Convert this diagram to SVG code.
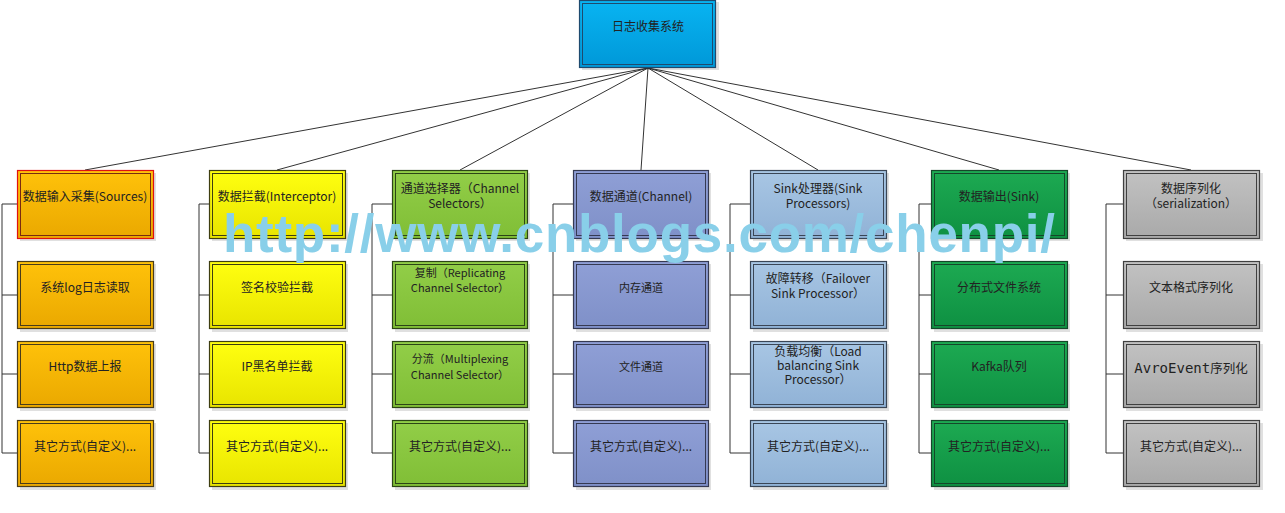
<svg xmlns="http://www.w3.org/2000/svg" width="1285" height="513" viewBox="0 0 1285 513">
<defs>
<linearGradient id="gTop" x1="0" y1="0" x2="0" y2="1"><stop offset="0" stop-color="#08B4F2"/><stop offset="1" stop-color="#0098D8"/></linearGradient>
<linearGradient id="gOr" x1="0" y1="0" x2="0" y2="1"><stop offset="0" stop-color="#FFC20A"/><stop offset="1" stop-color="#EAA800"/></linearGradient>
<linearGradient id="gYe" x1="0" y1="0" x2="0" y2="1"><stop offset="0" stop-color="#FFFF10"/><stop offset="1" stop-color="#E8E400"/></linearGradient>
<linearGradient id="gLi" x1="0" y1="0" x2="0" y2="1"><stop offset="0" stop-color="#92CE48"/><stop offset="1" stop-color="#80BE36"/></linearGradient>
<linearGradient id="gLa" x1="0" y1="0" x2="0" y2="1"><stop offset="0" stop-color="#8F9FD6"/><stop offset="1" stop-color="#7F90C8"/></linearGradient>
<linearGradient id="gLb" x1="0" y1="0" x2="0" y2="1"><stop offset="0" stop-color="#A8C6E4"/><stop offset="1" stop-color="#90B2D6"/></linearGradient>
<linearGradient id="gGr" x1="0" y1="0" x2="0" y2="1"><stop offset="0" stop-color="#1DAA52"/><stop offset="1" stop-color="#0E9042"/></linearGradient>
<linearGradient id="gGy" x1="0" y1="0" x2="0" y2="1"><stop offset="0" stop-color="#C2C2C2"/><stop offset="1" stop-color="#A9A9A9"/></linearGradient>
</defs>
<style>
.sh{fill:#000;opacity:0.12}
.o{stroke-width:1.2}
.i{fill:none;stroke-width:1}
.t{font-family:"Noto Sans CJK SC","Liberation Sans",sans-serif;font-size:12px;fill:#222;text-anchor:middle}
.s{font-size:11px}
.conn line,.conn polyline{stroke:#333;stroke-width:1;fill:none}
.wm{font-family:"Liberation Sans",Arial,sans-serif;font-weight:bold;font-size:53px;fill:#89CFE9}
</style>
<rect width="1285" height="513" fill="#fff"/>

<g id="connectors" class="conn">
<line x1="648" y1="68" x2="85" y2="170"/>
<line x1="648" y1="68" x2="277" y2="170"/>
<line x1="648" y1="68" x2="460" y2="170"/>
<line x1="648" y1="68" x2="641" y2="170"/>
<line x1="648" y1="68" x2="818" y2="170"/>
<line x1="648" y1="68" x2="999" y2="170"/>
<line x1="648" y1="68" x2="1191" y2="170"/>
<polyline points="17,204 2,204 2,453 17,453"/><line x1="2" y1="295" x2="17" y2="295"/><line x1="2" y1="374" x2="17" y2="374"/>
<polyline points="209,204 199,204 199,453 209,453"/><line x1="199" y1="295" x2="209" y2="295"/><line x1="199" y1="374" x2="209" y2="374"/>
<polyline points="392,204 372,204 372,453 392,453"/><line x1="372" y1="295" x2="392" y2="295"/><line x1="372" y1="374" x2="392" y2="374"/>
<polyline points="573,204 553,204 553,453 573,453"/><line x1="553" y1="295" x2="573" y2="295"/><line x1="553" y1="374" x2="573" y2="374"/>
<polyline points="750,204 730,204 730,453 750,453"/><line x1="730" y1="295" x2="750" y2="295"/><line x1="730" y1="374" x2="750" y2="374"/>
<polyline points="931,204 919,204 919,453 931,453"/><line x1="919" y1="295" x2="931" y2="295"/><line x1="919" y1="374" x2="931" y2="374"/>
<polyline points="1123,204 1106,204 1106,453 1123,453"/><line x1="1106" y1="295" x2="1123" y2="295"/><line x1="1106" y1="374" x2="1123" y2="374"/>
</g>

<g id="root">
<rect class="sh" x="582" y="2" width="137" height="68"/>
<rect class="o" x="579.5" y="0.5" width="136" height="67" fill="url(#gTop)" stroke="#1E4A6E"/>
<rect class="i" x="582.5" y="3.5" width="130" height="61" stroke="#1E4A6E"/>
<text class="t" x="648" y="31">日志收集系统</text>
</g>

<!-- Column 1 -->
<g id="c1h"><rect class="sh" x="20" y="173" width="136" height="68"/><rect class="o" x="17.5" y="170.5" width="136" height="68" fill="url(#gOr)" stroke="#E01010"/><rect class="i" x="20.5" y="173.5" width="130" height="62" stroke="#7A2A10"/><text class="t" x="85" y="201">数据输入采集(Sources)</text></g>
<g id="c1a"><rect class="sh" x="20" y="264" width="136" height="68"/><rect class="o" x="17.5" y="261.5" width="136" height="67" fill="url(#gOr)" stroke="#4A3C1A"/><rect class="i" x="20.5" y="264.5" width="130" height="61" stroke="#4A3C1A"/><text class="t" x="85" y="292">系统log日志读取</text></g>
<g id="c1b"><rect class="sh" x="20" y="344" width="136" height="67"/><rect class="o" x="17.5" y="341.5" width="136" height="66" fill="url(#gOr)" stroke="#4A3C1A"/><rect class="i" x="20.5" y="344.5" width="130" height="60" stroke="#4A3C1A"/><text class="t" x="85" y="371">Http数据上报</text></g>
<g id="c1c"><rect class="sh" x="20" y="423" width="136" height="67"/><rect class="o" x="17.5" y="420.5" width="136" height="66" fill="url(#gOr)" stroke="#4A3C1A"/><rect class="i" x="20.5" y="423.5" width="130" height="60" stroke="#4A3C1A"/><text class="t" x="85" y="451">其它方式(自定义)...</text></g>

<!-- Column 2 -->
<g id="c2h"><rect class="sh" x="212" y="173" width="136" height="68"/><rect class="o" x="209.5" y="170.5" width="136" height="68" fill="url(#gYe)" stroke="#3E3E10"/><rect class="i" x="212.5" y="173.5" width="130" height="62" stroke="#3E3E10"/><text class="t" x="277" y="201">数据拦截(Interceptor)</text></g>
<g id="c2a"><rect class="sh" x="212" y="264" width="136" height="68"/><rect class="o" x="209.5" y="261.5" width="136" height="67" fill="url(#gYe)" stroke="#3E3E10"/><rect class="i" x="212.5" y="264.5" width="130" height="61" stroke="#3E3E10"/><text class="t" x="277" y="292">签名校验拦截</text></g>
<g id="c2b"><rect class="sh" x="212" y="344" width="136" height="67"/><rect class="o" x="209.5" y="341.5" width="136" height="66" fill="url(#gYe)" stroke="#3E3E10"/><rect class="i" x="212.5" y="344.5" width="130" height="60" stroke="#3E3E10"/><text class="t" x="277" y="371">IP黑名单拦截</text></g>
<g id="c2c"><rect class="sh" x="212" y="423" width="136" height="67"/><rect class="o" x="209.5" y="420.5" width="136" height="66" fill="url(#gYe)" stroke="#3E3E10"/><rect class="i" x="212.5" y="423.5" width="130" height="60" stroke="#3E3E10"/><text class="t" x="277" y="451">其它方式(自定义)...</text></g>

<!-- Column 3 -->
<g id="c3h"><rect class="sh" x="395" y="173" width="135" height="68"/><rect class="o" x="392.5" y="170.5" width="135" height="68" fill="url(#gLi)" stroke="#2C4516"/><rect class="i" x="395.5" y="173.5" width="129" height="62" stroke="#2C4516"/><text class="t" x="460" y="193">通道选择器（Channel</text><text class="t" x="460" y="208">Selectors）</text></g>
<g id="c3a"><rect class="sh" x="395" y="264" width="135" height="68"/><rect class="o" x="392.5" y="261.5" width="135" height="67" fill="url(#gLi)" stroke="#2C4516"/><rect class="i" x="395.5" y="264.5" width="129" height="61" stroke="#2C4516"/><text class="t s" x="460" y="277">复制（Replicating</text><text class="t s" x="460" y="292">Channel Selector）</text></g>
<g id="c3b"><rect class="sh" x="395" y="344" width="135" height="67"/><rect class="o" x="392.5" y="341.5" width="135" height="66" fill="url(#gLi)" stroke="#2C4516"/><rect class="i" x="395.5" y="344.5" width="129" height="60" stroke="#2C4516"/><text class="t s" x="460" y="363">分流（Multiplexing</text><text class="t s" x="460" y="379">Channel Selector）</text></g>
<g id="c3c"><rect class="sh" x="395" y="423" width="135" height="67"/><rect class="o" x="392.5" y="420.5" width="135" height="66" fill="url(#gLi)" stroke="#2C4516"/><rect class="i" x="395.5" y="423.5" width="129" height="60" stroke="#2C4516"/><text class="t" x="460" y="451">其它方式(自定义)...</text></g>

<!-- Column 4 -->
<g id="c4h"><rect class="sh" x="576" y="173" width="135" height="68"/><rect class="o" x="573.5" y="170.5" width="135" height="68" fill="url(#gLa)" stroke="#363A52"/><rect class="i" x="576.5" y="173.5" width="129" height="62" stroke="#363A52"/><text class="t" x="641" y="201">数据通道(Channel)</text></g>
<g id="c4a"><rect class="sh" x="576" y="264" width="135" height="68"/><rect class="o" x="573.5" y="261.5" width="135" height="67" fill="url(#gLa)" stroke="#363A52"/><rect class="i" x="576.5" y="264.5" width="129" height="61" stroke="#363A52"/><text class="t s" x="641" y="292">内存通道</text></g>
<g id="c4b"><rect class="sh" x="576" y="344" width="135" height="67"/><rect class="o" x="573.5" y="341.5" width="135" height="66" fill="url(#gLa)" stroke="#363A52"/><rect class="i" x="576.5" y="344.5" width="129" height="60" stroke="#363A52"/><text class="t s" x="641" y="371">文件通道</text></g>
<g id="c4c"><rect class="sh" x="576" y="423" width="135" height="67"/><rect class="o" x="573.5" y="420.5" width="135" height="66" fill="url(#gLa)" stroke="#363A52"/><rect class="i" x="576.5" y="423.5" width="129" height="60" stroke="#363A52"/><text class="t" x="641" y="451">其它方式(自定义)...</text></g>

<!-- Column 5 -->
<g id="c5h"><rect class="sh" x="753" y="173" width="136" height="68"/><rect class="o" x="750.5" y="170.5" width="136" height="68" fill="url(#gLb)" stroke="#3A4656"/><rect class="i" x="753.5" y="173.5" width="130" height="62" stroke="#3A4656"/><text class="t" x="818" y="193">Sink处理器(Sink</text><text class="t" x="818" y="208">Processors)</text></g>
<g id="c5a"><rect class="sh" x="753" y="264" width="136" height="68"/><rect class="o" x="750.5" y="261.5" width="136" height="67" fill="url(#gLb)" stroke="#3A4656"/><rect class="i" x="753.5" y="264.5" width="130" height="61" stroke="#3A4656"/><text class="t" x="818" y="283">故障转移（Failover</text><text class="t" x="818" y="298">Sink Processor）</text></g>
<g id="c5b"><rect class="sh" x="753" y="344" width="136" height="67"/><rect class="o" x="750.5" y="341.5" width="136" height="66" fill="url(#gLb)" stroke="#3A4656"/><rect class="i" x="753.5" y="344.5" width="130" height="60" stroke="#3A4656"/><text class="t" x="818" y="356">负载均衡（Load</text><text class="t" x="818" y="370">balancing Sink</text><text class="t" x="818" y="384">Processor）</text></g>
<g id="c5c"><rect class="sh" x="753" y="423" width="136" height="67"/><rect class="o" x="750.5" y="420.5" width="136" height="66" fill="url(#gLb)" stroke="#3A4656"/><rect class="i" x="753.5" y="423.5" width="130" height="60" stroke="#3A4656"/><text class="t" x="818" y="451">其它方式(自定义)...</text></g>

<!-- Column 6 -->
<g id="c6h"><rect class="sh" x="934" y="173" width="136" height="68"/><rect class="o" x="931.5" y="170.5" width="136" height="68" fill="url(#gGr)" stroke="#15472A"/><rect class="i" x="934.5" y="173.5" width="130" height="62" stroke="#15472A"/><text class="t" x="999" y="201">数据输出(Sink)</text></g>
<g id="c6a"><rect class="sh" x="934" y="264" width="136" height="68"/><rect class="o" x="931.5" y="261.5" width="136" height="67" fill="url(#gGr)" stroke="#15472A"/><rect class="i" x="934.5" y="264.5" width="130" height="61" stroke="#15472A"/><text class="t" x="999" y="292">分布式文件系统</text></g>
<g id="c6b"><rect class="sh" x="934" y="344" width="136" height="67"/><rect class="o" x="931.5" y="341.5" width="136" height="66" fill="url(#gGr)" stroke="#15472A"/><rect class="i" x="934.5" y="344.5" width="130" height="60" stroke="#15472A"/><text class="t" x="999" y="371">Kafka队列</text></g>
<g id="c6c"><rect class="sh" x="934" y="423" width="136" height="67"/><rect class="o" x="931.5" y="420.5" width="136" height="66" fill="url(#gGr)" stroke="#15472A"/><rect class="i" x="934.5" y="423.5" width="130" height="60" stroke="#15472A"/><text class="t" x="999" y="451">其它方式(自定义)...</text></g>

<!-- Column 7 -->
<g id="c7h"><rect class="sh" x="1126" y="173" width="137" height="68"/><rect class="o" x="1123.5" y="170.5" width="136" height="68" fill="url(#gGy)" stroke="#404040"/><rect class="i" x="1126.5" y="173.5" width="130" height="62" stroke="#404040"/><text class="t" x="1191" y="193">数据序列化</text><text class="t" x="1191" y="208">（serialization）</text></g>
<g id="c7a"><rect class="sh" x="1126" y="264" width="137" height="68"/><rect class="o" x="1123.5" y="261.5" width="136" height="67" fill="url(#gGy)" stroke="#404040"/><rect class="i" x="1126.5" y="264.5" width="130" height="61" stroke="#404040"/><text class="t" x="1191" y="292">文本格式序列化</text></g>
<g id="c7b"><rect class="sh" x="1126" y="344" width="137" height="67"/><rect class="o" x="1123.5" y="341.5" width="136" height="66" fill="url(#gGy)" stroke="#404040"/><rect class="i" x="1126.5" y="344.5" width="130" height="60" stroke="#404040"/><text class="t" x="1191" y="373"><tspan font-family="'DejaVu Sans Mono','Liberation Mono',monospace" font-size="14px">AvroEvent</tspan><tspan font-size="12.5px">序列化</tspan></text></g>
<g id="c7c"><rect class="sh" x="1126" y="423" width="137" height="67"/><rect class="o" x="1123.5" y="420.5" width="136" height="66" fill="url(#gGy)" stroke="#404040"/><rect class="i" x="1126.5" y="423.5" width="130" height="60" stroke="#404040"/><text class="t" x="1191" y="451">其它方式(自定义)...</text></g>

<text class="wm" x="223" y="252" textLength="832" lengthAdjust="spacing">http://www.cnblogs.com/chenpi/</text>
</svg>
